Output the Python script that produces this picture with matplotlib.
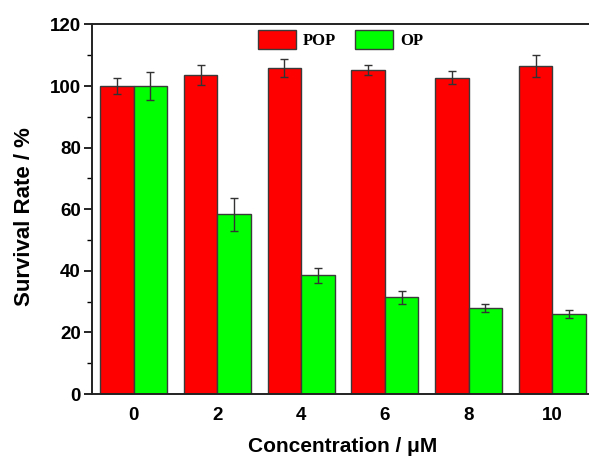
import numpy as np
import matplotlib
matplotlib.use("Agg")
import matplotlib.pyplot as plt
from matplotlib.ticker import MultipleLocator

# Data
concentrations = ["0", "2", "4", "6", "8", "10"]
pop_mean = [100.0, 103.5, 105.8, 105.1, 102.7, 106.5]
pop_err = [2.5, 3.2, 3.0, 1.6, 2.2, 3.5]
op_mean = [100.0, 58.4, 38.6, 31.4, 28.0, 26.0]
op_err = [4.7, 5.4, 2.4, 2.1, 1.3, 1.2]

plt.rcParams['font.family'] = ['Liberation Sans', 'DejaVu Sans']

fig = plt.figure(figsize=(5.89, 4.58), dpi=100)
ax = fig.add_axes([0.156, 0.1397, 0.853, 0.807])

x = np.arange(len(concentrations))
w = 0.4
err_kw = dict(ecolor='#333333', elinewidth=1.0, capsize=2.7, capthick=1.0)

ax.bar(x - w / 2, pop_mean, w, yerr=pop_err, color='#ff0000',
       edgecolor='#3a3a3a', linewidth=1.0, label='POP', error_kw=err_kw)
ax.bar(x + w / 2, op_mean, w, yerr=op_err, color='#00ff00',
       edgecolor='#3a3a3a', linewidth=1.0, label='OP', error_kw=err_kw)

ax.set_xlim(-0.5, len(concentrations) - 0.5)
ax.set_ylim(0, 120)
ax.set_xticks(x)
ax.set_xticklabels(concentrations)
ax.yaxis.set_major_locator(MultipleLocator(20))
ax.yaxis.set_minor_locator(MultipleLocator(10))

for s in ax.spines.values():
    s.set_linewidth(1.4)
    s.set_color('#222222')

ax.tick_params(axis='y', which='major', direction='out', length=6, width=1.2,
               labelsize=13.5, pad=2)
ax.tick_params(axis='y', which='minor', direction='out', length=3.5, width=1.0)
ax.tick_params(axis='x', which='both', length=0, labelsize=13.5, pad=9)
for lbl in ax.get_xticklabels() + ax.get_yticklabels():
    lbl.set_fontweight('bold')

ax.set_ylabel("Survival Rate / %", fontsize=16, fontweight='bold')
ax.yaxis.set_label_coords(-0.114, 0.48)
ax.set_xlabel("Concentration / μM", fontsize=15, fontweight='bold', labelpad=10)

ax.legend(loc='center', bbox_to_anchor=(0.495, 0.96), ncol=2,
          frameon=False, handlelength=2.3, handleheight=1.4,
          columnspacing=1.1, handletextpad=0.42,
          prop={'family': 'Liberation Serif', 'weight': 'bold', 'size': 12})

fig.savefig("out.png", dpi=100)
